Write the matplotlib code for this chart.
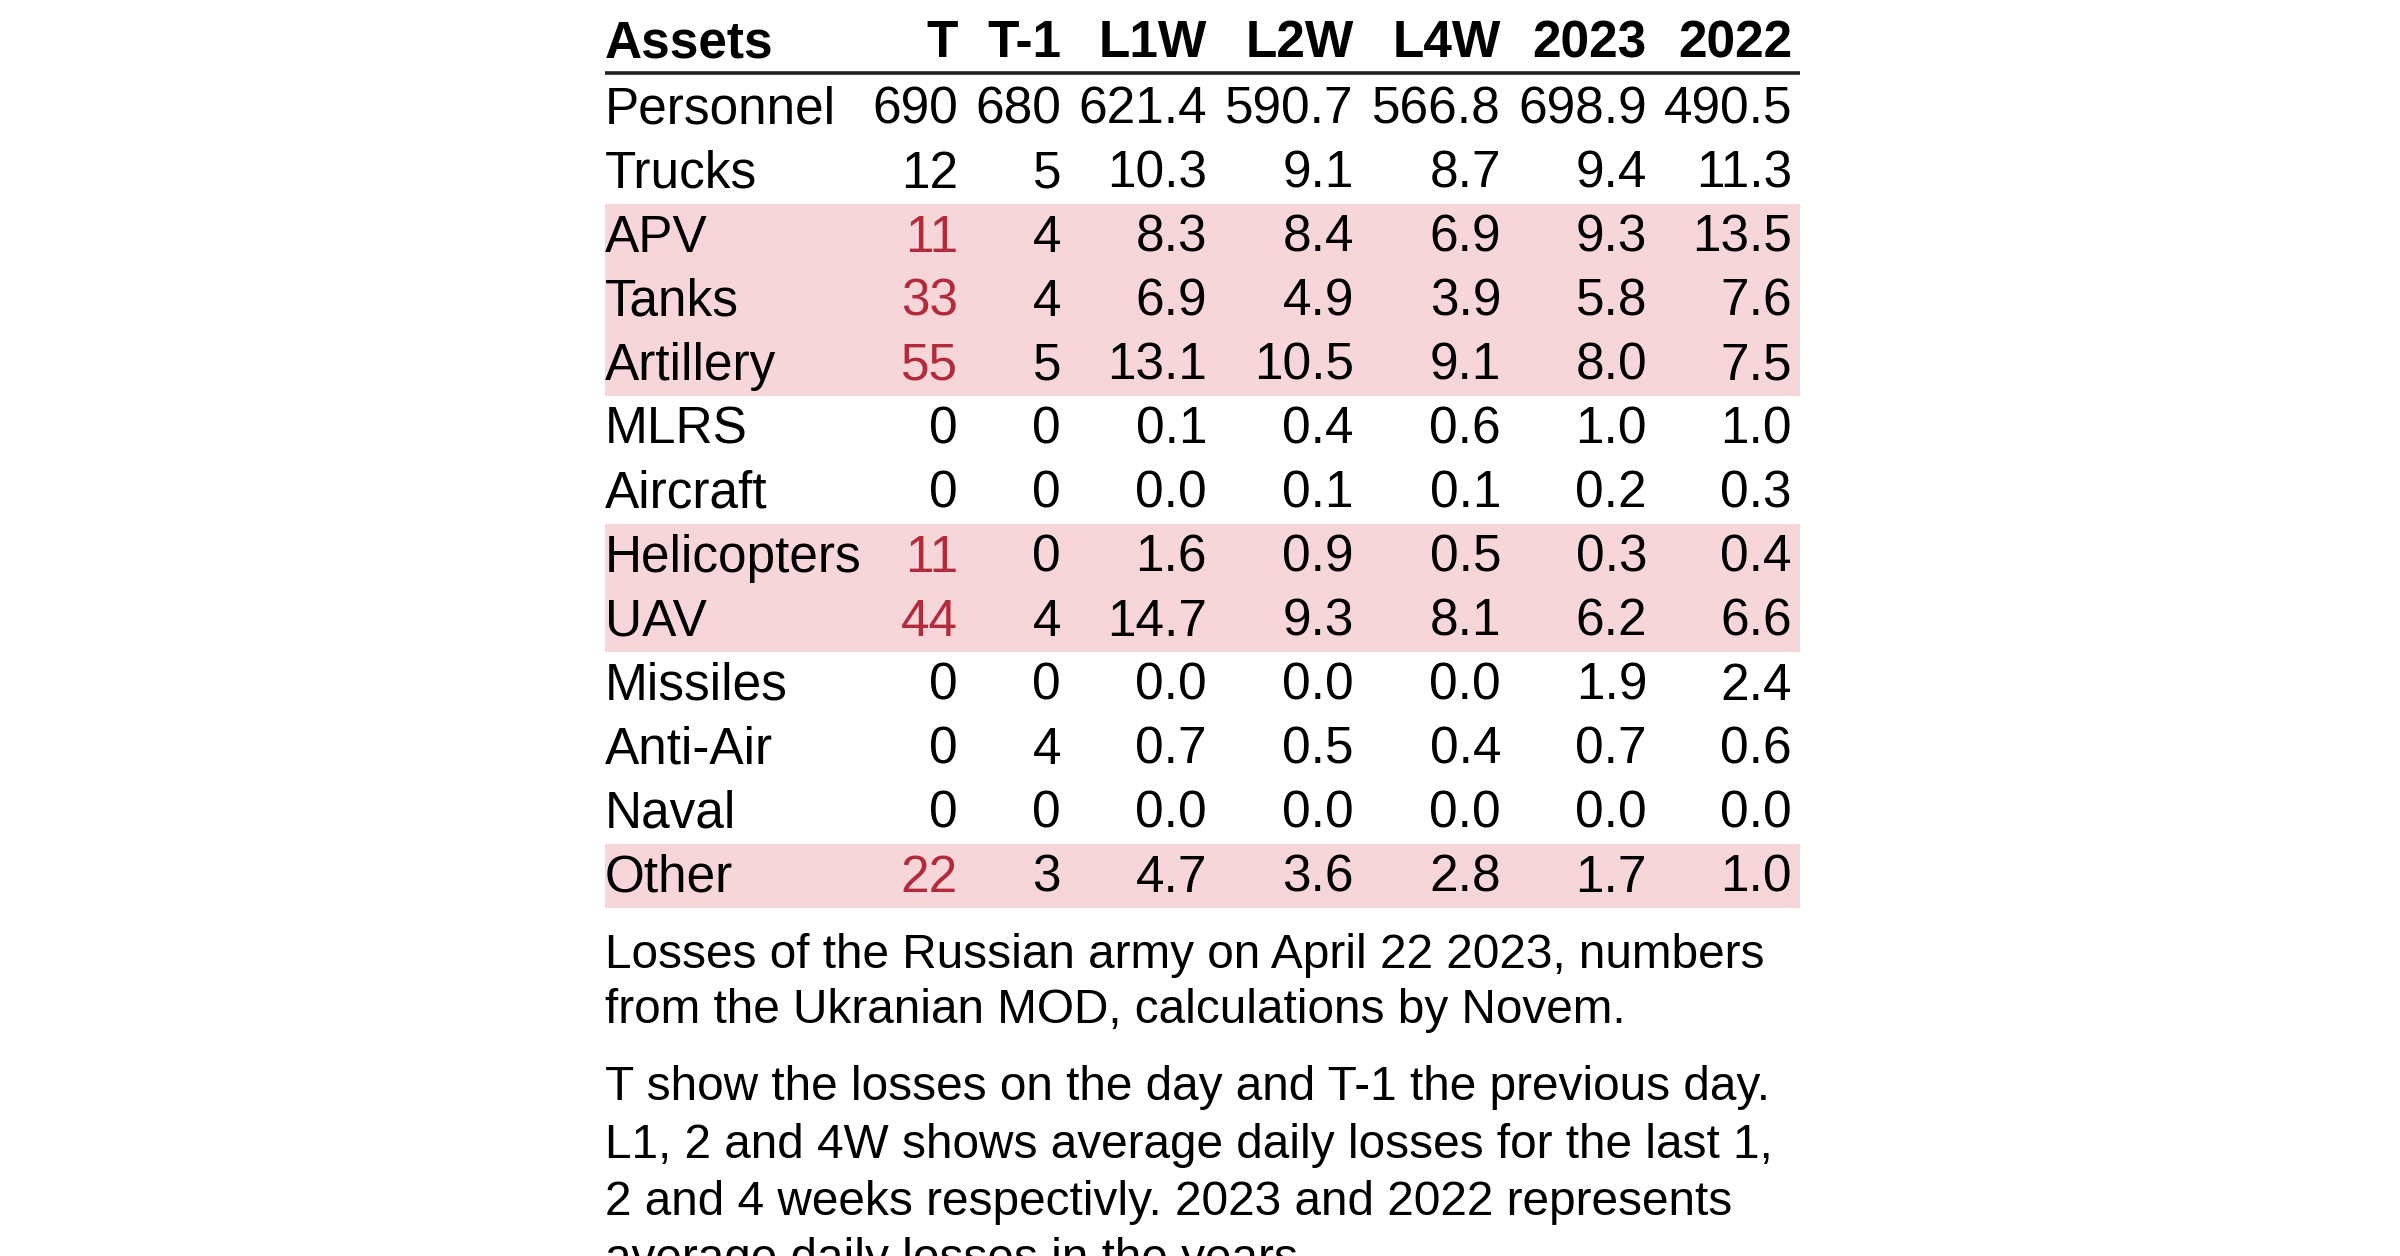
import matplotlib.pyplot as plt

plt.rcParams['font.family'] = ['Liberation Sans', 'DejaVu Sans']

# table data
columns = ["T", "T-1", "L1W", "L2W", "L4W", "2023", "2022"]
assets = ["Personnel", "Trucks", "APV", "Tanks", "Artillery", "MLRS", "Aircraft",
          "Helicopters", "UAV", "Missiles", "Anti-Air", "Naval", "Other"]
t_day = [690, 12, 11, 33, 55, 0, 0, 11, 44, 0, 0, 0, 22]
t_prev = [680, 5, 4, 4, 5, 0, 0, 0, 4, 0, 4, 0, 3]
last_1w = [621.4, 10.3, 8.3, 6.9, 13.1, 0.1, 0.0, 1.6, 14.7, 0.0, 0.7, 0.0, 4.7]
last_2w = [590.7, 9.1, 8.4, 4.9, 10.5, 0.4, 0.1, 0.9, 9.3, 0.0, 0.5, 0.0, 3.6]
last_4w = [566.8, 8.7, 6.9, 3.9, 9.1, 0.6, 0.1, 0.5, 8.1, 0.0, 0.4, 0.0, 2.8]
avg_2023 = [698.9, 9.4, 9.3, 5.8, 8.0, 1.0, 0.2, 0.3, 6.2, 1.9, 0.7, 0.0, 1.7]
avg_2022 = [490.5, 11.3, 13.5, 7.6, 7.5, 1.0, 0.3, 0.4, 6.6, 2.4, 0.6, 0.0, 1.0]
highlight = ["APV", "Tanks", "Artillery", "Helicopters", "UAV", "Other"]

caption1 = ["Losses of the Russian army on April 22 2023, numbers",
            "from the Ukranian MOD, calculations by Novem."]
caption2 = ["T show the losses on the day and T-1 the previous day.",
            "L1, 2 and 4W shows average daily losses for the last 1,",
            "2 and 4 weeks respectivly. 2023 and 2022 represents",
            "average daily losses in the years."]

RED = "#b32a3a"
PINK = "#f7d6da"

fig = plt.figure(figsize=(12, 6.28), dpi=200)
ax = fig.add_axes([0, 0, 1, 1])
ax.set_xlim(0, 2400)
ax.set_ylim(1256, 0)
ax.axis("off")

left, right = 605, 1800
col_right = [958, 1061, 1207, 1354, 1501, 1647, 1792]
row_top0, row_h = 76, 64
fs_table = 18.5
fs_cap = 17.2

# header
ax.text(left, 57, "Assets", fontsize=fs_table, fontweight="bold", va="baseline", ha="left")
for x, c in zip(col_right, columns):
    ax.text(x, 57, c, fontsize=fs_table, fontweight="bold", va="baseline", ha="right")
ax.plot([left, right], [73, 73], color="#222222", lw=1.3, solid_capstyle="butt")

series = [t_day, t_prev, last_1w, last_2w, last_4w, avg_2023, avg_2022]
for i, name in enumerate(assets):
    top = row_top0 + i * row_h
    hl = name in highlight
    if hl:
        ax.fill_between([left, right], top, top + row_h, color=PINK, lw=0, zorder=0)
    base = top + 48
    ax.text(left, base, name, fontsize=fs_table, va="baseline", ha="left")
    for j, (x, s) in enumerate(zip(col_right, series)):
        v = s[i]
        txt = f"{v:d}" if j < 2 else f"{v:.1f}"
        color = RED if (j == 0 and hl) else "black"
        ax.text(x, base, txt, fontsize=fs_table, va="baseline", ha="right", color=color)

# caption (last line runs off the bottom, as in the source)
for k, line in enumerate(caption1):
    ax.text(left, 968 + k * 55, line, fontsize=fs_cap, va="baseline", ha="left")
for k, line in enumerate(caption2):
    ax.text(left, 1100 + k * 57.5, line, fontsize=fs_cap, va="baseline", ha="left")

fig.savefig("out.png", dpi=200, facecolor="white")
